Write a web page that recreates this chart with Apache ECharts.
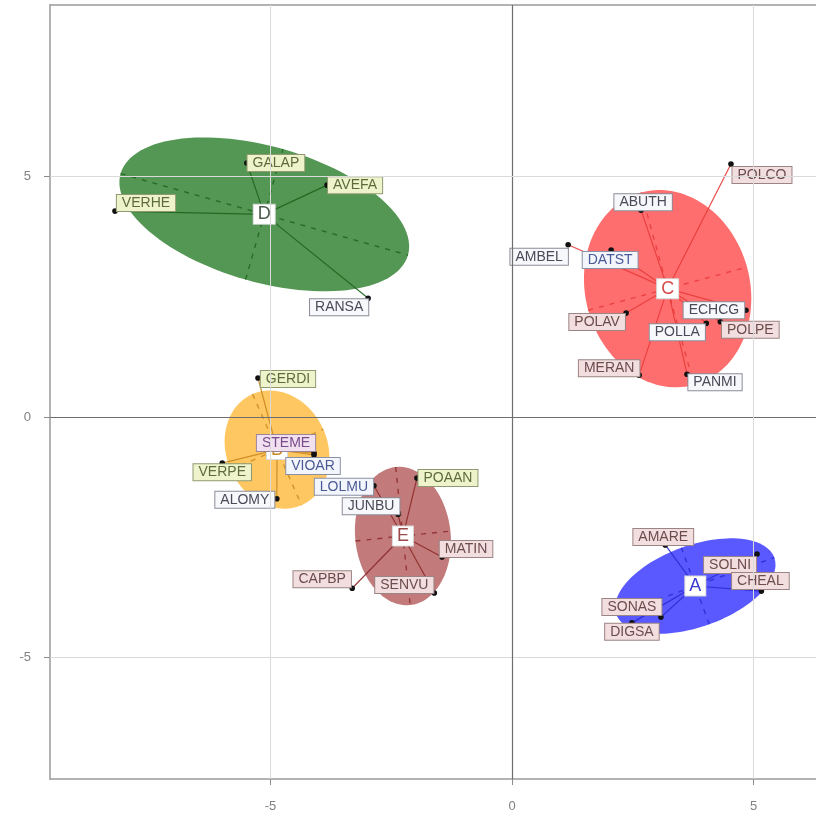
<!DOCTYPE html>
<html>
<head>
<meta charset="utf-8">
<script src="https://cdn.jsdelivr.net/npm/echarts@6/dist/echarts.min.js"></script>
<style>
  html, body { margin: 0; padding: 0; background: #ffffff; }
  #chart { width: 816px; height: 817px; }
</style>
</head>
<body>
<div id="chart"></div>
<script>
// Species scores on the first two axes, grouped by class
const classNames = ['A', 'B', 'C', 'D', 'E'];

const speciesA = ['AMARE', 'SOLNI', 'CHEAL', 'SONAS', 'DIGSA'];
const xA = [3.17, 5.07, 5.16, 3.08, 2.48];
const yA = [-2.66, -2.85, -3.62, -4.16, -4.28];

const speciesB = ['GERDI', 'STEME', 'VIOAR', 'VERPE', 'ALOMY'];
const xB = [-5.26, -4.10, -4.10, -6.00, -4.87];
const yB = [0.81, -0.75, -0.79, -0.96, -1.70];

const speciesC = ['POLCO', 'ABUTH', 'AMBEL', 'DATST', 'ECHCG', 'POLLA', 'POLPE', 'POLAV', 'MERAN', 'PANMI'];
const xC = [4.53, 2.67, 1.16, 2.05, 4.84, 4.02, 4.31, 2.36, 2.63, 3.62];
const yC = [5.26, 4.30, 3.58, 3.47, 2.22, 1.95, 1.98, 2.16, 0.87, 0.89];

const speciesD = ['GALAP', 'AVEFA', 'VERHE', 'RANSA'];
const xD = [-5.49, -3.83, -8.22, -2.98];
const yD = [5.28, 4.82, 4.28, 2.47];

const speciesE = ['POAAN', 'LOLMU', 'JUNBU', 'MATIN', 'CAPBP', 'SENVU'];
const xE = [-1.97, -2.86, -2.36, -1.45, -3.31, -1.61];
const yE = [-1.27, -1.43, -2.02, -2.91, -3.56, -3.66];

const tickValues = [-5, 0, 5];

// Ellipse size in standard deviations
const cellipse = 1.5;

// ---- styling / layout ----
const classStyle = {
  A: { fill: 'rgba(0,0,255,0.65)',   line: '#2a2ad0', text: '#3a3ad0' },
  B: { fill: 'rgba(255,165,0,0.62)', line: '#c88a20', text: '#c88a20' },
  C: { fill: 'rgba(255,0,0,0.57)',   line: '#e83a3a', text: '#d84a4a' },
  D: { fill: 'rgba(0,100,0,0.67)',   line: '#1d641d', text: '#4a5a4a' },
  E: { fill: 'rgba(139,0,0,0.52)',   line: '#8e2a2a', text: '#9a4a4a' }
};

// label tone of each species name box
const tones = {
  g: { bg: '#eef3cc', border: '#8f9a70', color: '#5d6b3a' },
  p: { bg: '#f2dede', border: '#9b8484', color: '#6d4c4c' },
  w: { bg: '#f7f8fc', border: '#8c8c98', color: '#4a4a58' },
  v: { bg: '#f1e0ef', border: '#9c8498', color: '#7a4a8a' },
  b: { bg: '#f3f5fc', border: '#8c90a4', color: '#4a5a96' }
};
const labelTone = {
  GALAP: 'g', AVEFA: 'g', VERHE: 'g', RANSA: 'w',
  POLCO: 'p', ABUTH: 'w', AMBEL: 'w', DATST: 'b', ECHCG: 'w', POLLA: 'w',
  POLPE: 'p', POLAV: 'p', MERAN: 'p', PANMI: 'w',
  AMARE: 'p', SOLNI: 'p', CHEAL: 'p', SONAS: 'p', DIGSA: 'p',
  POAAN: 'g', LOLMU: 'b', JUNBU: 'w', MATIN: 'p', CAPBP: 'p', SENVU: 'p',
  GERDI: 'g', STEME: 'v', VIOAR: 'b', VERPE: 'g', ALOMY: 'w'
};
// pixel offset of each name box centre from its point
const labelShift = {
  GALAP: [29, 0], AVEFA: [28, 0], VERHE: [31, -8], RANSA: [-29, 9],
  POLCO: [31, 11], ABUTH: [2, -8], AMBEL: [-29, 12], DATST: [-1, 10], ECHCG: [-32, 0],
  POLLA: [-29, 9], POLPE: [30, 8], POLAV: [-29, 9], MERAN: [-30, -7], PANMI: [28, 8],
  AMARE: [-2, -8], SOLNI: [-27, 11], CHEAL: [-1, -10], SONAS: [-29, -10], DIGSA: [0, 9],
  POAAN: [31, 0], LOLMU: [-30, 1], JUNBU: [-27, -8], MATIN: [24, -8], CAPBP: [-30, -9], SENVU: [-30, -8],
  GERDI: [30, 1], STEME: [-28, -10], VIOAR: [-1, 11], VERPE: [0, 9], ALOMY: [-32, 1]
};

const classData = {
  A: { names: speciesA, x: xA, y: yA },
  B: { names: speciesB, x: xB, y: yB },
  C: { names: speciesC, x: xC, y: yC },
  D: { names: speciesD, x: xD, y: yD },
  E: { names: speciesE, x: xE, y: yE }
};

// mean, covariance and principal axes of one class
function classGeometry(c) {
  const n = c.x.length;
  let mx = 0, my = 0;
  for (let i = 0; i < n; i++) { mx += c.x[i]; my += c.y[i]; }
  mx /= n; my /= n;
  let sxx = 0, syy = 0, sxy = 0;
  for (let i = 0; i < n; i++) {
    const dx = c.x[i] - mx, dy = c.y[i] - my;
    sxx += dx * dx; syy += dy * dy; sxy += dx * dy;
  }
  sxx /= n; syy /= n; sxy /= n;
  const tr = sxx + syy, det = sxx * syy - sxy * sxy;
  const disc = Math.sqrt(Math.max(tr * tr / 4 - det, 0));
  const l1 = tr / 2 + disc, l2 = Math.max(tr / 2 - disc, 0);
  let vx, vy;
  if (Math.abs(sxy) > 1e-12) { vx = l1 - syy; vy = sxy; }
  else if (sxx >= syy) { vx = 1; vy = 0; } else { vx = 0; vy = 1; }
  const norm = Math.hypot(vx, vy);
  vx /= norm; vy /= norm;
  return { mx, my, vx, vy, r1: cellipse * Math.sqrt(l1), r2: cellipse * Math.sqrt(l2) };
}

const FONT = 'Liberation Sans, Arial, sans-serif';

function renderClass(params, api) {
  const key = classNames[params.dataIndex];
  const c = classData[key];
  const st = classStyle[key];
  const g = classGeometry(c);
  const children = [];

  // ellipse outline sampled in data space
  const poly = [];
  for (let k = 0; k < 120; k++) {
    const t = 2 * Math.PI * k / 120;
    const a = g.r1 * Math.cos(t), b = g.r2 * Math.sin(t);
    poly.push(api.coord([g.mx + a * g.vx - b * g.vy, g.my + a * g.vy + b * g.vx]));
  }
  children.push({ type: 'polygon', z2: 1, shape: { points: poly }, style: { fill: st.fill, stroke: null } });

  // ellipse axes
  const ax = [
    [[g.mx - g.r1 * g.vx, g.my - g.r1 * g.vy], [g.mx + g.r1 * g.vx, g.my + g.r1 * g.vy]],
    [[g.mx + g.r2 * g.vy, g.my - g.r2 * g.vx], [g.mx - g.r2 * g.vy, g.my + g.r2 * g.vx]]
  ];
  ax.forEach(seg => {
    const p1 = api.coord(seg[0]), p2 = api.coord(seg[1]);
    children.push({
      type: 'line', z2: 2,
      shape: { x1: p1[0], y1: p1[1], x2: p2[0], y2: p2[1] },
      style: { stroke: st.line, lineWidth: 1.4, lineDash: [5, 6], opacity: 0.85 }
    });
  });

  // stars from the class centre to each species
  const cen = api.coord([g.mx, g.my]);
  for (let i = 0; i < c.x.length; i++) {
    const p = api.coord([c.x[i], c.y[i]]);
    children.push({
      type: 'line', z2: 3,
      shape: { x1: cen[0], y1: cen[1], x2: p[0], y2: p[1] },
      style: { stroke: st.line, lineWidth: 1.2, opacity: 0.9 }
    });
  }
  // species points
  for (let i = 0; i < c.x.length; i++) {
    const p = api.coord([c.x[i], c.y[i]]);
    children.push({ type: 'circle', z2: 4, shape: { cx: p[0], cy: p[1], r: 2.8 }, style: { fill: '#111' } });
  }
  // class label
  children.push({
    type: 'text', z2: 5,
    style: {
      text: key, x: cen[0], y: cen[1], align: 'center', verticalAlign: 'middle',
      fontFamily: FONT, fontSize: 18, fill: st.text,
      backgroundColor: '#ffffff', borderColor: '#d8d8d8', borderWidth: 1, padding: [1, 4, 0, 4]
    }
  });
  // species name boxes
  for (let i = 0; i < c.x.length; i++) {
    const name = c.names[i];
    const p = api.coord([c.x[i], c.y[i]]);
    const sh = labelShift[name];
    const tn = tones[labelTone[name]];
    children.push({
      type: 'text', z2: 6,
      style: {
        text: name, x: p[0] + sh[0], y: p[1] + sh[1], align: 'center', verticalAlign: 'middle',
        fontFamily: FONT, fontSize: 14, fill: tn.color,
        backgroundColor: tn.bg, borderColor: tn.border, borderWidth: 1, padding: [1, 5, 1, 5]
      }
    });
  }
  return { type: 'group', children };
}

const chart = echarts.init(document.getElementById('chart'), null, { renderer: 'canvas' });

const gridLineMarks = [];
tickValues.forEach(v => {
  const strong = v === 0;
  const ls = { color: strong ? '#6e6e6e' : '#dadada', width: strong ? 1.2 : 1, type: 'solid' };
  gridLineMarks.push({ xAxis: v, lineStyle: ls });
  gridLineMarks.push({ yAxis: v, lineStyle: ls });
});

const frameLine = { show: true, onZero: false, lineStyle: { color: '#9a9a9a', width: 1.5 } };
const axisTickStyle = { show: true, customValues: tickValues, length: 6, lineStyle: { color: '#8a8a8a' } };
const X_MIN = -9.565, X_MAX = 6.29, Y_MIN = -7.526, Y_MAX = 8.565;

chart.setOption({
  animation: false,
  backgroundColor: '#ffffff',
  grid: { left: 50, top: 5, right: 0, bottom: 38, show: false },
  xAxis: [
    {
      type: 'value', min: X_MIN, max: X_MAX, position: 'bottom',
      splitLine: { show: false }, axisLine: frameLine,
      axisTick: axisTickStyle,
      axisLabel: { customValues: tickValues, color: '#808080', fontSize: 13, margin: 21, fontFamily: FONT }
    },
    {
      type: 'value', min: X_MIN, max: X_MAX, position: 'top',
      splitLine: { show: false }, axisLine: frameLine,
      axisTick: { show: false }, axisLabel: { show: false }
    }
  ],
  yAxis: {
    type: 'value', min: Y_MIN, max: Y_MAX, position: 'left',
    splitLine: { show: false }, axisLine: frameLine,
    axisTick: axisTickStyle,
    axisLabel: { customValues: tickValues, color: '#808080', fontSize: 13, margin: 19, fontFamily: FONT }
  },
  series: [
    {
      type: 'line', data: [], z: 1, silent: true, xAxisIndex: 0,
      markLine: { silent: true, symbol: ['none', 'none'], label: { show: false }, data: gridLineMarks, animation: false }
    },
    {
      type: 'custom', z: 2, silent: true, xAxisIndex: 0,
      coordinateSystem: 'cartesian2d',
      data: classNames.map((k, i) => [i]),
      renderItem: renderClass,
      clip: false
    }
  ]
});
</script>
</body>
</html>
